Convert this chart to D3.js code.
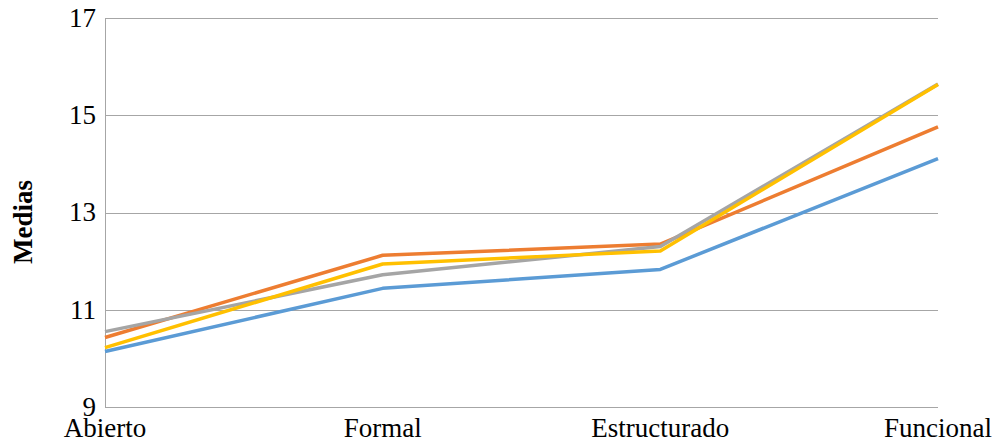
<!DOCTYPE html>
<html>
<head>
<meta charset="utf-8">
<script src="https://cdn.jsdelivr.net/npm/d3@7"></script>
<style>
  body { margin: 0; background: #fff; }
  svg text { font-family: "Liberation Serif", "DejaVu Serif", serif; fill: #000; }
</style>
</head>
<body>
<div id="chart"></div>
<script>
const categories = ['Abierto', 'Formal', 'Estructurado', 'Funcional'];
const yTicks = [9, 11, 13, 15, 17];
const serieAzul = [10.14, 11.44, 11.83, 14.11];
const serieNaranja = [10.43, 12.12, 12.35, 14.76];
const serieGris = [10.55, 11.72, 12.30, 15.64];
const serieAmarilla = [10.22, 11.94, 12.21, 15.63];
const colors = ['#5B9BD5', '#ED7D31', '#A5A5A5', '#FFC000'];

const width = 997, height = 443;
const margin = { top: 18, right: 59, bottom: 36, left: 105 };

const svg = d3.select('#chart').append('svg')
  .attr('width', width)
  .attr('height', height);

const x = d3.scalePoint()
  .domain(categories)
  .range([margin.left, width - margin.right])
  .padding(0);

const y = d3.scaleLinear()
  .domain([9, 17])
  .range([height - margin.bottom, margin.top]);

// gridlines
svg.append('g')
  .selectAll('line')
  .data(yTicks)
  .enter().append('line')
  .attr('x1', margin.left)
  .attr('x2', width - margin.right)
  .attr('y1', d => Math.round(y(d)) + 0.5)
  .attr('y2', d => Math.round(y(d)) + 0.5)
  .attr('stroke', '#A6A6A6')
  .attr('stroke-width', 1);

// left axis line
svg.append('line')
  .attr('x1', margin.left + 0.5)
  .attr('x2', margin.left + 0.5)
  .attr('y1', y(17))
  .attr('y2', y(9))
  .attr('stroke', '#A6A6A6')
  .attr('stroke-width', 1);

// y tick labels
svg.append('g')
  .selectAll('text')
  .data(yTicks)
  .enter().append('text')
  .attr('x', margin.left - 9)
  .attr('y', d => y(d))
  .attr('dy', '0.33em')
  .attr('text-anchor', 'end')
  .attr('font-size', 27)
  .text(d => d);

// x labels
svg.append('g')
  .selectAll('text')
  .data(categories)
  .enter().append('text')
  .attr('x', d => x(d))
  .attr('y', height - 6)
  .attr('text-anchor', 'middle')
  .attr('font-size', 27)
  .text(d => d);

// y axis title
svg.append('text')
  .attr('transform', 'translate(32, 222) rotate(-90)')
  .attr('text-anchor', 'middle')
  .attr('font-size', 27)
  .attr('font-weight', 'bold')
  .text('Medias');

const series = [serieAzul, serieNaranja, serieGris, serieAmarilla];
const line = d3.line()
  .x((d, i) => x(categories[i]))
  .y(d => y(d));

svg.append('g')
  .selectAll('path')
  .data(series)
  .enter().append('path')
  .attr('d', d => line(d))
  .attr('fill', 'none')
  .attr('stroke', (d, i) => colors[i])
  .attr('stroke-width', 3.5)
  .attr('stroke-linejoin', 'round');
</script>
</body>
</html>
